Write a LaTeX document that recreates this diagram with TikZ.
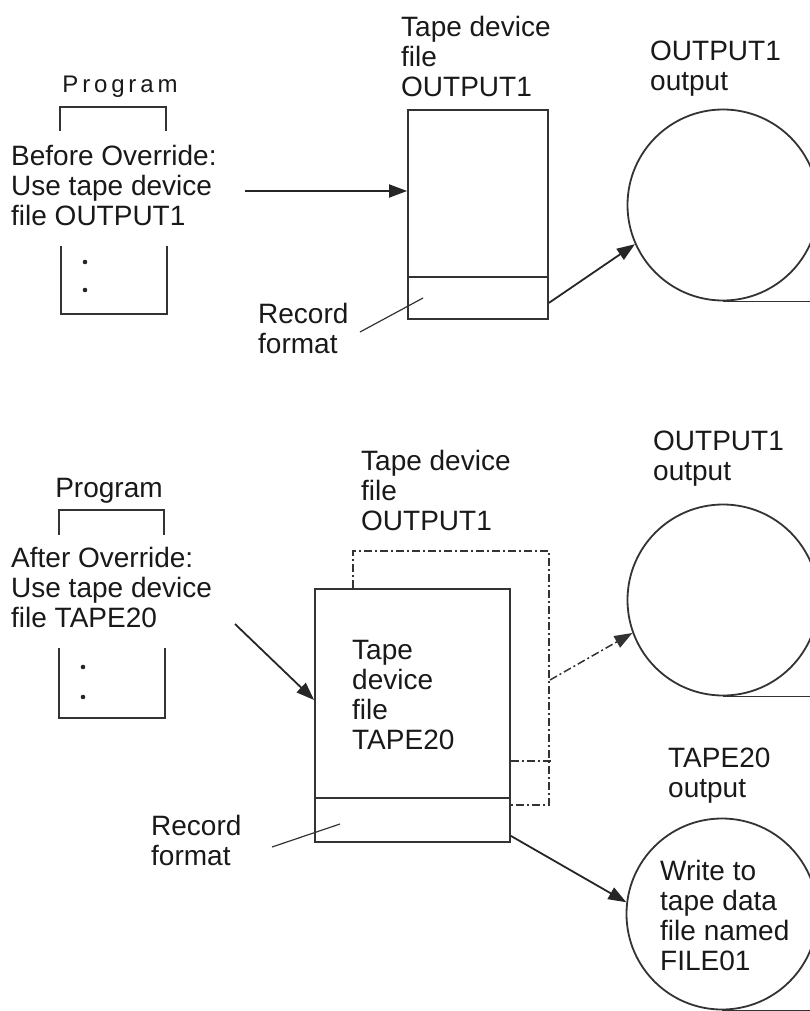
\documentclass[tikz,border=0pt]{standalone}
\usepackage{fontspec}
\setmainfont{Liberation Sans}
\newfontfamily\spacedfont[LetterSpace=16]{Liberation Sans}
\usetikzlibrary{positioning,arrows.meta,calc}
\tikzset{
  txt/.style={anchor=north west, inner sep=0pt, align=left, text=black!90,
    font=\fontsize{28}{30}\selectfont},
  filebox/.style={draw=black!80, line width=1.8pt, inner sep=0pt},
  tape/.style={circle, draw=black!80, line width=1.8pt, minimum size=191pt, inner sep=0pt},
  flow/.style={draw=black!85, line width=1.8pt, -{Triangle[length=18pt,width=13pt]}},
  over/.style={draw=black!80, line width=1.5pt, dash pattern=on 8pt off 3pt on 2pt off 3pt},
  bracket/.style={draw=black!80, line width=1.8pt}
}
\begin{document}
\begin{tikzpicture}[x=1pt, y=-1pt]
    \useasboundingbox (0,0) rectangle (810,1011);
    % before override
    \node[txt, anchor=base, font=\spacedfont\fontsize{24}{26}\selectfont] (proga) at (120,93) {Program};
    \node[txt] (befa) at (11,145) {Before Override:\\Use tape device\\file OUTPUT1};
    \node[txt] (labfa) at (401,16) {Tape device\\file\\OUTPUT1};
    \node[txt] (labta) at (650,41) {OUTPUT1\\output};
    \node[txt] (reca) at (258,303) {Record\\format};
    \node[filebox, minimum width=140pt, minimum height=209pt] (filea) at (478,214.5) {};
    \node[tape] (outa) at (723,205) {};
    \coordinate (usea) at (245,191);
    \coordinate (pointa) at (360,332);
    %
    \draw[bracket] (60,131) -- (60,107) -- (166,107) -- (166,131);
    \draw[bracket] (61,246) -- (61,314) -- (167,314) -- (167,246);
    \fill[black!85] (85,262) circle (2.3pt) (85,290) circle (2.3pt);
    \draw[filebox] (filea.west |- 0,277) -- (filea.east |- 0,277);
    \draw[flow] (usea) -- (filea.west |- usea);
    \draw[flow] ($(filea.south east)+(0,-17)$) -- (outa.204);
    \draw[bracket] (outa.south) -- ++(90,0);
    \draw[bracket, line width=1.2pt] (pointa) -- (423,298);
    %
    % after override
    \node[txt, anchor=base] (progb) at (109,497) {Program};
    \node[txt] (aftb) at (11,547) {After Override:\\Use tape device\\file TAPE20};
    \node[txt] (labfb) at (361,450) {Tape device\\file\\OUTPUT1};
    \node[txt] (labtb) at (653,431) {OUTPUT1\\output};
    \node[txt] (labtc) at (668,748) {TAPE20\\output};
    \node[txt] (recb) at (151,815) {Record\\format};
    \node[filebox, minimum width=195pt, minimum height=253pt] (fileb) at (412.5,715.5) {};
    \node[txt] (tapeb) at (352,640) {Tape\\device\\file\\TAPE20};
    \node[tape] (outb) at (723,600) {};
    \node[tape] (outc) at (722,914) {};
    \node[txt] (writec) at (660,860) {Write to\\tape data\\file named\\FILE01};
    \coordinate (useb) at (235,624);
    \coordinate (dashb) at (550,680);
    \coordinate (pointb) at (272,847);
    %
    \draw[bracket] (59,535) -- (59,510) -- (164,510) -- (164,535);
    \draw[bracket] (59,648) -- (59,718) -- (165,718) -- (165,648);
    \fill[black!85] (83,667) circle (2.3pt) (83,697) circle (2.3pt);
    \draw[filebox] (fileb.west |- 0,798) -- (fileb.east |- 0,798);
    \draw[over] ($(fileb.north west)+(39,0)$) -- ++(0,-37) -- ++(196,0) -- ++(0,254) -- ++(-40,0);
    \draw[over] (fileb.east |- 0,761) -- ++(40,0);
    \draw[flow] (useb) -- (fileb.west |- 0,700);
    \draw[flow, over] (dashb) -- (outb.200);
    \draw[flow] ($(fileb.south east)+(0,-7)$) -- (outc.173);
    \draw[bracket] (outb.south) -- ++(90,0);
    \draw[bracket] (outc.south) -- ++(90,0);
    \draw[bracket, line width=1.2pt] (pointb) -- (340,824);
\end{tikzpicture}
\end{document}
